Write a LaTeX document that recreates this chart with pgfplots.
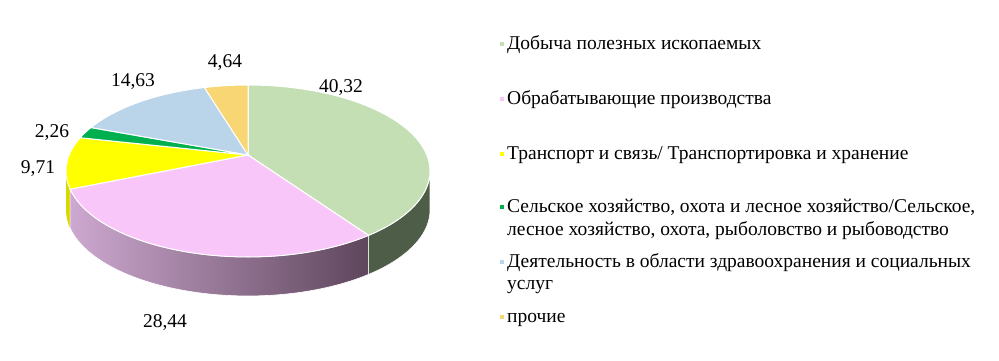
\documentclass[border=0pt]{standalone}
\usepackage{fontspec}
\setmainfont{Liberation Serif}
\usepackage{pgfplots}
\pgfplotsset{compat=1.18}
\usepackage{pgfplotstable}

\definecolor{cMin}{HTML}{C4DFB4}
\definecolor{cMan}{HTML}{F9C6F9}
\definecolor{cTr}{HTML}{FFFF00}
\definecolor{cAg}{HTML}{00B050}
\definecolor{cHe}{HTML}{BAD4EA}
\definecolor{cOt}{HTML}{F8D673}
\definecolor{sMin}{HTML}{4E5D47}
\definecolor{sManL}{HTML}{CDA8D0}
\definecolor{sManR}{HTML}{5E465C}
\definecolor{sTr}{HTML}{D8D800}

\pgfplotstableread{
value
40.32
28.44
9.71
2.26
14.63
4.64
}\piedata

% perspective projection of the pie rim (centre of the pie at 248,206)
\newcommand\PX[1]{248+178.8*cos(#1)/(1+0.186*sin(#1))}
\newcommand\PY[1]{206+83*sin(#1)/(1+0.186*sin(#1))}
\newcommand\Depth{39}
\newcommand\lm[1]{\llap{\textcolor{#1}{\rule[0.2em]{4bp}{4bp}}\hspace{3bp}}}

\begin{document}%
\begin{tikzpicture}[font=\fontsize{19.5bp}{23bp}\selectfont]
\pgfplotstablegetelem{0}{value}\of\piedata\let\vA\pgfplotsretval
\pgfplotstablegetelem{1}{value}\of\piedata\let\vB\pgfplotsretval
\pgfplotstablegetelem{2}{value}\of\piedata\let\vC\pgfplotsretval
\pgfplotstablegetelem{3}{value}\of\piedata\let\vD\pgfplotsretval
\pgfplotstablegetelem{4}{value}\of\piedata\let\vE\pgfplotsretval
\pgfplotstablegetelem{5}{value}\of\piedata\let\vF\pgfplotsretval
\pgfmathsetmacro\tA{90}
\pgfmathsetmacro\tB{\tA-3.6*\vA}
\pgfmathsetmacro\tC{\tB-3.6*\vB}
\pgfmathsetmacro\tD{\tC-3.6*\vC}
\pgfmathsetmacro\tE{\tD-3.6*\vD}
\pgfmathsetmacro\tF{\tE-3.6*\vE}
\pgfmathsetmacro\tG{\tF-3.6*\vF}
\pgfmathsetmacro\tL{-180+asin(0.186)}
\pgfmathsetmacro\tR{-asin(0.186)}
\useasboundingbox (0,0) rectangle (999bp,361bp);
\begin{axis}[at={(0,0)}, anchor=south west, x=1bp, y=1bp,
  xmin=0, xmax=999, ymin=0, ymax=361, hide axis, clip=false]
% --- side walls (front)
\fill[sTr] plot[domain=\tL:\tC, samples=20, variable=\t] ({\PX{\t}},{\PY{\t}})
  -- plot[domain=\tL:\tC, samples=20, variable=\t] ({\PX{\tL+\tC-\t}},{\PY{\tL+\tC-\t}-\Depth}) -- cycle;
\shade[left color=sManL, right color=sManR, draw=white, line width=0.6bp]
  plot[domain=\tC:\tB, samples=60, variable=\t] ({\PX{\t}},{\PY{\t}})
  -- plot[domain=\tC:\tB, samples=60, variable=\t] ({\PX{\tC+\tB-\t}},{\PY{\tC+\tB-\t}-\Depth}) -- cycle;
\fill[sMin, draw=white, line width=0.6bp]
  plot[domain=\tB:\tR, samples=40, variable=\t] ({\PX{\t}},{\PY{\t}})
  -- plot[domain=\tB:\tR, samples=40, variable=\t] ({\PX{\tB+\tR-\t}},{\PY{\tB+\tR-\t}-\Depth}) -- cycle;
% --- top faces
\addplot[fill=cMin, draw=white, line width=1bp, domain=\tB:\tA, samples=80, variable=\t]
  ({\PX{\t}},{\PY{\t}}) -- (axis cs:248,206) -- cycle;
\addplot[fill=cMan, draw=white, line width=1bp, domain=\tC:\tB, samples=80, variable=\t]
  ({\PX{\t}},{\PY{\t}}) -- (axis cs:248,206) -- cycle;
\addplot[fill=cTr, draw=white, line width=1bp, domain=\tD:\tC, samples=30, variable=\t]
  ({\PX{\t}},{\PY{\t}}) -- (axis cs:248,206) -- cycle;
\addplot[fill=cAg, draw=white, line width=1bp, domain=\tE:\tD, samples=10, variable=\t]
  ({\PX{\t}},{\PY{\t}}) -- (axis cs:248,206) -- cycle;
\addplot[fill=cHe, draw=white, line width=1bp, domain=\tF:\tE, samples=40, variable=\t]
  ({\PX{\t}},{\PY{\t}}) -- (axis cs:248,206) -- cycle;
\addplot[fill=cOt, draw=white, line width=1bp, domain=\tG:\tF, samples=15, variable=\t]
  ({\PX{\t}},{\PY{\t}}) -- (axis cs:248,206) -- cycle;
% --- data labels
\node[anchor=base, inner sep=0] at (axis cs:341,268) {40,32};
\node[anchor=base, inner sep=0] at (axis cs:165,33) {28,44};
\node[anchor=base, inner sep=0] at (axis cs:38,187) {9,71};
\node[anchor=base, inner sep=0] at (axis cs:52,223) {2,26};
\node[anchor=base, inner sep=0] at (axis cs:133,274) {14,63};
\node[anchor=base, inner sep=0] at (axis cs:225,293) {4,64};
% --- legend
\node[anchor=base west, inner sep=0] at (axis cs:507,311) {\lm{cMin}Добыча полезных ископаемых};
\node[anchor=base west, inner sep=0] at (axis cs:507,256) {\lm{cMan}Обрабатывающие производства};
\node[anchor=base west, inner sep=0] at (axis cs:507,201) {\lm{cTr}Транспорт и связь/ Транспортировка и хранение};
\node[anchor=base west, inner sep=0] at (axis cs:507,148) {\lm{cAg}Сельское хозяйство, охота и лесное хозяйство/Сельское,};
\node[anchor=base west, inner sep=0] at (axis cs:507,125) {лесное хозяйство, охота, рыболовство и рыбоводство};
\node[anchor=base west, inner sep=0] at (axis cs:507,93) {\lm{cHe}Деятельность в области здравоохранения и социальных};
\node[anchor=base west, inner sep=0] at (axis cs:507,71) {услуг};
\node[anchor=base west, inner sep=0] at (axis cs:507,38) {\lm{cOt}прочие};
\end{axis}
\end{tikzpicture}%
\end{document}
